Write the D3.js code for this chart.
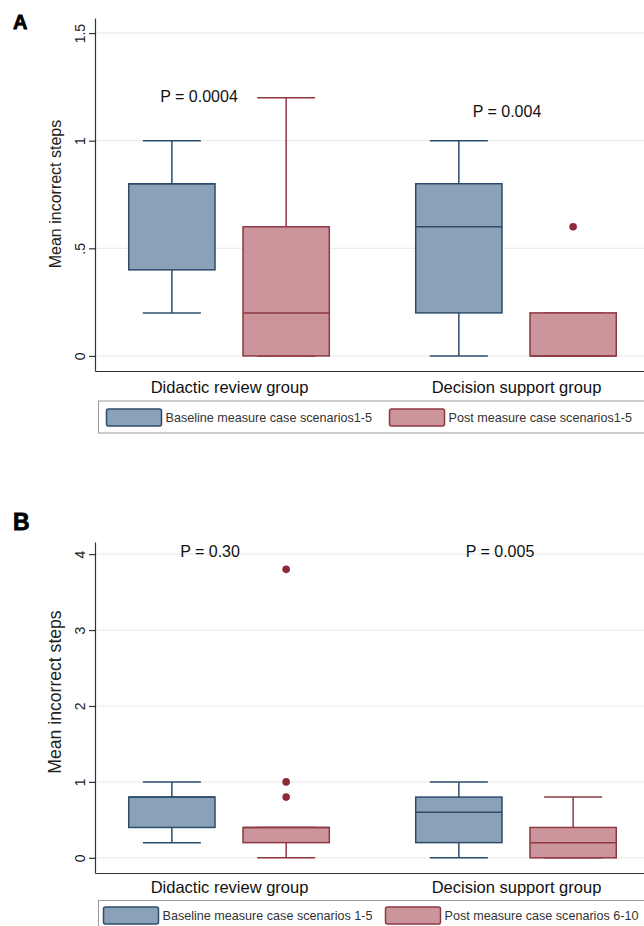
<!DOCTYPE html>
<html>
<head>
<meta charset="utf-8">
<script src="https://cdn.jsdelivr.net/npm/d3@7"></script>
<style>
  body { margin: 0; background: #fff; }
  svg { display: block; font-family: "Liberation Sans", Arial, sans-serif; }
</style>
</head>
<body>
<svg id="chart" width="644" height="926"></svg>
<script>
// groups on the x axis
var groups = ["Didactic review group", "Decision support group"];
var seriesKeys = ["base", "post"];

// legend labels
var legendA = ["Baseline measure case scenarios1-5", "Post measure case scenarios1-5"];
var legendB = ["Baseline measure case scenarios 1-5", "Post measure case scenarios 6-10"];

// box summaries per group: [lower whisker, q1, median, q3, upper whisker]
var baseA = [[0.2, 0.4, 0.8, 0.8, 1.0], [0, 0.2, 0.6, 0.8, 1.0]];
var postA = [[0, 0, 0.2, 0.6, 1.2], [0, 0, 0, 0.2, 0.2]];
var outBaseA = [[], []];
var outPostA = [[], [0.6]];

var baseB = [[0.2, 0.4, 0.8, 0.8, 1.0], [0, 0.2, 0.6, 0.8, 1.0]];
var postB = [[0, 0.2, 0.4, 0.4, 0.4], [0, 0, 0.2, 0.4, 0.8]];
var outBaseB = [[], []];
var outPostB = [[0.8, 1.0, 3.8], []];

// y ticks
var ticksA = [0, 0.5, 1, 1.5];
var tickLabelsA = ["0", ".5", "1", "1.5"];
var ticksB = [0, 1, 2, 3, 4];
var tickLabelsB = ["0", "1", "2", "3", "4"];

// p value annotations
var pLabelsA = ["P = 0.0004", "P = 0.004"];
var pLabelsB = ["P = 0.30", "P = 0.005"];

var colors = {
	base: { fill: "#8ba1b7", stroke: "#2c4c6c" },
	post: { fill: "#cc959b", stroke: "#8e3843" }
};
var dotColor = "#8e2a36";

var svg = d3.select("#chart");
var axisX = 95, plotRight = 650;

var x = d3.scalePoint().domain(groups).range([axisX, plotRight]).padding(0.467);
var xs = d3.scaleBand().domain(seriesKeys).range([-114, 114]).paddingInner(0.245).paddingOuter(0.12);

function drawPanel(p) {
	var g = svg.append("g");
	var y = d3.scaleLinear().domain(p.domain).range([p.bottom, p.top]);

	// panel letter
	g.append("text")
		.attr("x", 13).attr("y", p.letterY)
		.attr("font-size", p.letterSize).attr("font-weight", "bold")
		.attr("stroke", "#000").attr("stroke-width", 0.8)
		.text(p.letter);

	// gridlines
	g.selectAll(".grid")
		.data(p.ticks)
		.enter().append("line")
		.attr("x1", axisX).attr("x2", plotRight)
		.attr("y1", function (d) { return y(d); })
		.attr("y2", function (d) { return y(d); })
		.attr("stroke", "#ececec").attr("stroke-width", 1.2);

	// y axis
	var ya = g.append("g")
		.attr("transform", "translate(" + axisX + ",0)")
		.call(d3.axisLeft(y).tickValues(p.ticks).tickSize(6).tickSizeOuter(0)
			.tickFormat(function (d, i) { return p.tickLabels[i]; }));
	ya.select(".domain").attr("stroke", "#333").attr("stroke-width", 1.2);
	ya.selectAll(".tick line").attr("stroke", "#333").attr("stroke-width", 1.2);
	ya.selectAll(".tick text")
		.attr("x", 0).attr("y", -10).attr("dy", 0)
		.attr("transform", "rotate(-90)")
		.attr("text-anchor", "middle")
		.attr("font-size", 14)
		.attr("fill", "#222");

	// y title
	g.append("text")
		.attr("transform", "translate(61," + p.titleY + ") rotate(-90)")
		.attr("text-anchor", "middle")
		.attr("font-size", p.titleSize)
		.attr("fill", "#222")
		.text("Mean incorrect steps");

	// x axis
	var xa = g.append("g")
		.attr("transform", "translate(0," + p.bottom + ")")
		.call(d3.axisBottom(x).tickSize(0).tickPadding(p.xPad).tickSizeOuter(0));
	xa.select(".domain").attr("stroke", "#333").attr("stroke-width", 1.2);
	xa.selectAll(".tick text").attr("font-size", 16.5).attr("fill", "#111");

	// boxes
	var capW = 58, boxW = xs.bandwidth();
	var sets = [{ key: "base", stats: p.base, out: p.outBase }, { key: "post", stats: p.post, out: p.outPost }];
	sets.forEach(function (s) {
		var c = colors[s.key];
		groups.forEach(function (grp, i) {
			var st = s.stats[i];
			var cx = x(grp) + xs(s.key) + boxW / 2;
			var bg = g.append("g");
			// whiskers
			bg.append("line").attr("x1", cx).attr("x2", cx)
				.attr("y1", y(st[3])).attr("y2", y(st[4]))
				.attr("stroke", c.stroke).attr("stroke-width", 1.5);
			bg.append("line").attr("x1", cx).attr("x2", cx)
				.attr("y1", y(st[0])).attr("y2", y(st[1]))
				.attr("stroke", c.stroke).attr("stroke-width", 1.5);
			[st[0], st[4]].forEach(function (v) {
				bg.append("line").attr("x1", cx - capW / 2).attr("x2", cx + capW / 2)
					.attr("y1", y(v)).attr("y2", y(v))
					.attr("stroke", c.stroke).attr("stroke-width", 1.5);
			});
			bg.append("rect")
				.attr("x", cx - boxW / 2).attr("width", boxW)
				.attr("y", y(st[3])).attr("height", y(st[1]) - y(st[3]))
				.attr("fill", c.fill).attr("stroke", c.stroke).attr("stroke-width", 1.5);
			bg.append("line").attr("x1", cx - boxW / 2).attr("x2", cx + boxW / 2)
				.attr("y1", y(st[2])).attr("y2", y(st[2]))
				.attr("stroke", c.stroke).attr("stroke-width", 1.5);
			bg.selectAll("circle")
				.data(s.out[i])
				.enter().append("circle")
				.attr("cx", cx).attr("cy", function (d) { return y(d); })
				.attr("r", 3.8).attr("fill", dotColor);
		});
	});

	// p values
	groups.forEach(function (grp, i) {
		g.append("text")
			.attr("x", x(grp) + p.pDx[i]).attr("y", p.pY[i])
			.attr("text-anchor", "middle")
			.attr("font-size", 16)
			.attr("fill", "#111")
			.text(p.pLabels[i]);
	});

	// legend
	var lg = g.append("g");
	lg.append("rect")
		.attr("x", 98.5).attr("y", p.legTop)
		.attr("width", 560).attr("height", p.legH)
		.attr("fill", "#fff").attr("stroke", "#999").attr("stroke-width", 1);
	seriesKeys.forEach(function (k, i) {
		var c = colors[k];
		lg.append("rect")
			.attr("x", p.swX[i]).attr("y", p.swY)
			.attr("width", 55).attr("height", 17).attr("rx", 2)
			.attr("fill", c.fill).attr("stroke", c.stroke).attr("stroke-width", 1.5);
		lg.append("text")
			.attr("x", p.swX[i] + 59).attr("y", p.swY + 13)
			.attr("font-size", 12.6)
			.attr("fill", "#333")
			.text(p.legend[i]);
	});
}

drawPanel({
	letter: "A", letterY: 29, letterSize: 20,
	domain: [-0.07, 1.57], top: 18, bottom: 371,
	ticks: ticksA, tickLabels: tickLabelsA,
	titleY: 194, titleSize: 16, xPad: 10,
	base: baseA, post: postA, outBase: outBaseA, outPost: outPostA,
	pLabels: pLabelsA, pDx: [-30, -9], pY: [102, 117],
	legend: legendA, legTop: 401, legH: 32, swX: [106.5, 389.5], swY: 409
});

drawPanel({
	letter: "B", letterY: 530, letterSize: 23,
	domain: [-0.2, 4.16], top: 542, bottom: 873,
	ticks: ticksB, tickLabels: tickLabelsB,
	titleY: 692, titleSize: 17.6, xPad: 8,
	base: baseB, post: postB, outBase: outBaseB, outPost: outPostB,
	pLabels: pLabelsB, pDx: [-19, -16], pY: [557, 557],
	legend: legendB, legTop: 900.5, legH: 30, swX: [103.5, 385.5], swY: 907
});
</script>
</body>
</html>
